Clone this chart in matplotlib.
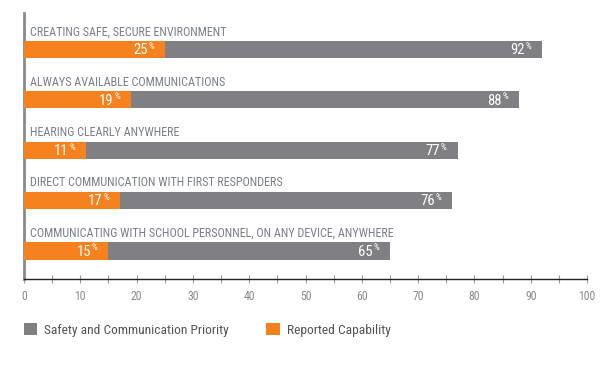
import matplotlib
matplotlib.use("Agg")
import matplotlib.pyplot as plt

categories = [
    "CREATING SAFE, SECURE ENVIRONMENT",
    "ALWAYS AVAILABLE COMMUNICATIONS",
    "HEARING CLEARLY ANYWHERE",
    "DIRECT COMMUNICATION WITH FIRST RESPONDERS",
    "COMMUNICATING WITH SCHOOL PERSONNEL, ON ANY DEVICE, ANYWHERE",
]
priority = [92, 88, 77, 76, 65]
capability = [25, 19, 11, 17, 15]
x_ticks = [0, 10, 20, 30, 40, 50, 60, 70, 80, 90, 100]
series_names = ["Safety and Communication Priority", "Reported Capability"]

GRAY = "#808084"
ORANGE = "#F5821F"
LABEL = "#7b7f8a"

plt.rcParams['font.family'] = ['Roboto Condensed', 'DejaVu Sans']

W, H = 606, 367
fig = plt.figure(figsize=(W / 100, H / 100), dpi=100)
ax = fig.add_axes([24 / W, 1 - 279 / H, (587 - 24) / W, (279 - 13) / H])

ypos = list(range(len(categories)))
bh = 0.34
b1 = ax.barh(ypos, priority, height=bh, color=GRAY, label=series_names[0], zorder=2)
b2 = ax.barh(ypos, capability, height=bh, color=ORANGE, label=series_names[1], zorder=3)

for i, cat in enumerate(categories):
    ax.text(1.1, i - 0.35, cat, color=LABEL, fontsize=8.75, va="center", ha="left")
    for v in (priority[i], capability[i]):
        ax.annotate(str(v), xy=(v, i), xytext=(-12.5, -0.5), textcoords="offset points",
                    ha="right", va="center", color="white", fontsize=10.5, zorder=5)
        ax.annotate("%", xy=(v, i), xytext=(-12, 2.3), textcoords="offset points",
                    ha="left", va="center", color="white", fontsize=6.5, zorder=5)

ax.set_xlim(0, 100)
ax.set_ylim(4.556, -0.724)
ax.set_yticks([])
ax.set_xticks(x_ticks)
ax.set_xticks(range(5, 100, 10), minor=True)
ax.tick_params(axis="x", which="both", direction="inout", length=6, width=0.8,
               color="#9a9a9a", labelcolor="#8a8a8a", labelsize=8.5, pad=5)

for s in ("top", "right"):
    ax.spines[s].set_visible(False)
ax.spines["bottom"].set_color("#222222")
ax.spines["bottom"].set_linewidth(1.0)
ax.spines["left"].set_color("#8a8a8a")
ax.spines["left"].set_linewidth(2.0)

leg = ax.legend(handles=[b1, b2], loc="upper left", bbox_to_anchor=(-0.01, -0.145),
                ncol=2, frameon=False, fontsize=9.7, handlelength=1.0, handleheight=1.0,
                handletextpad=0.5, columnspacing=2.8, borderaxespad=0)
for t in leg.get_texts():
    t.set_color("#555555")

fig.savefig("out.png", dpi=100)
